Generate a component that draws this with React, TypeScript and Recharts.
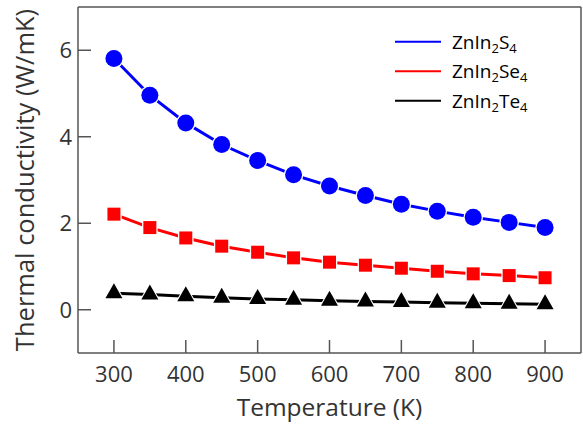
import { LineChart, Line, XAxis, YAxis, Legend } from 'recharts'

const temperatures = [300, 350, 400, 450, 500, 550, 600, 650, 700, 750, 800, 850, 900]
const znIn2S4 = [5.81, 4.96, 4.32, 3.82, 3.45, 3.12, 2.86, 2.64, 2.44, 2.28, 2.14, 2.02, 1.9]
const znIn2Se4 = [2.21, 1.9, 1.66, 1.47, 1.33, 1.2, 1.1, 1.03, 0.96, 0.89, 0.83, 0.79, 0.74]
const znIn2Te4 = [0.38, 0.35, 0.31, 0.28, 0.25, 0.23, 0.21, 0.19, 0.18, 0.16, 0.15, 0.14, 0.13]

const xTicks = [300, 400, 500, 600, 700, 800, 900]
const yTicks = [0, 2, 4, 6]

const FONT = '"Open Sans", sans-serif'
const FRAME = '#555'
const TEXT = '#333'

const data = temperatures.map((t, i) => ({
  t,
  s: znIn2S4[i],
  se: znIn2Se4[i],
  te: znIn2Te4[i],
}))

const series = [
  { key: 's', color: '#0000ff', base: 'S' },
  { key: 'se', color: '#ff0000', base: 'Se' },
  { key: 'te', color: '#000000', base: 'Te' },
]

// markers get a thin white halo so the line stops just short of them
// eslint-disable-next-line @typescript-eslint/no-explicit-any
const circleDot = (p: any) => (
  <g key={`c-${p.index}`}>
    <circle cx={p.cx} cy={p.cy} r={9.8} fill="#fff" />
    <circle cx={p.cx} cy={p.cy} r={8.5} fill="#0000ff" />
  </g>
)

// eslint-disable-next-line @typescript-eslint/no-explicit-any
const squareDot = (p: any) => (
  <g key={`s-${p.index}`}>
    <rect x={p.cx - 7.8} y={p.cy - 7.8} width={15.6} height={15.6} fill="#fff" />
    <rect x={p.cx - 6.5} y={p.cy - 6.5} width={13} height={13} fill="#ff0000" />
  </g>
)

// triangle drawn with its centroid on the data point
// eslint-disable-next-line @typescript-eslint/no-explicit-any
const triangleDot = (p: any) => {
  const pts = `${p.cx},${p.cy - 10} ${p.cx - 8.5},${p.cy + 5} ${p.cx + 8.5},${p.cy + 5}`
  return (
    <g key={`t-${p.index}`}>
      <polygon points={pts} fill="#fff" stroke="#fff" strokeWidth={2.2} strokeLinejoin="round" />
      <polygon points={pts} fill="#000" />
    </g>
  )
}

function LegendBox() {
  return (
    <svg width={190} height={95} style={{ overflow: 'visible' }}>
      {series.map((s, i) => {
        const y = 16.7 + i * 29.5
        return (
          <g key={s.key}>
            <line x1={5} x2={51} y1={y} y2={y} stroke={s.color} strokeWidth={2} />
            <text x={62} y={y + 6.8} fontFamily={FONT} fontSize={19} fill="#000">
              ZnIn
              <tspan dy={4} fontSize={13}>2</tspan>
              <tspan dy={-4}>{s.base}</tspan>
              <tspan dy={4} fontSize={13}>4</tspan>
            </text>
          </g>
        )
      })}
    </svg>
  )
}

export default function App() {
  return (
    <div style={{ position: 'absolute', left: 0, top: 0, background: '#fff' }}>
      <LineChart width={583} height={424} data={data} margin={{ top: 7, right: 2, bottom: 0, left: 0 }}>
        <XAxis
          dataKey="t"
          type="number"
          domain={[250, 950]}
          ticks={xTicks}
          height={71}
          stroke={FRAME}
          strokeWidth={1.5}
          tickSize={-13}
          tickMargin={26}
          tick={{ fontFamily: FONT, fontSize: 22, fill: TEXT }}
          label={{
            value: 'Temperature (K)',
            position: 'insideBottom',
            offset: 8,
            style: { fontFamily: FONT, fontSize: 24.5, fill: TEXT },
          }}
        />
        <XAxis
          xAxisId="top"
          orientation="top"
          type="number"
          domain={[250, 950]}
          ticks={xTicks}
          mirror
          tick={false}
          tickSize={13}
          stroke={FRAME}
          strokeWidth={1.5}
        />
        <YAxis
          type="number"
          domain={[-1, 7]}
          ticks={yTicks}
          width={78}
          stroke={FRAME}
          strokeWidth={1.5}
          tickSize={-13}
          tickMargin={19}
          tick={{ fontFamily: FONT, fontSize: 22, fill: TEXT }}
          label={{
            value: 'Thermal conductivity (W/mK)',
            angle: -90,
            position: 'insideLeft',
            offset: 25,
            style: { fontFamily: FONT, fontSize: 25.5, fill: TEXT, textAnchor: 'middle' },
          }}
        />
        <YAxis
          yAxisId="right"
          orientation="right"
          type="number"
          domain={[-1, 7]}
          ticks={yTicks}
          mirror
          tick={false}
          tickSize={13}
          stroke={FRAME}
          strokeWidth={1.5}
        />
        <Legend
          layout="vertical"
          align="center"
          verticalAlign="middle"
          wrapperStyle={{ left: 390, top: 25, width: 190 }}
          content={() => <LegendBox />}
        />
        <Line dataKey="s" stroke="#0000ff" strokeWidth={3} dot={circleDot} isAnimationActive={false} />
        <Line dataKey="se" stroke="#ff0000" strokeWidth={3} dot={squareDot} isAnimationActive={false} />
        <Line dataKey="te" stroke="#000000" strokeWidth={3} dot={triangleDot} isAnimationActive={false} />
      </LineChart>
    </div>
  )
}
